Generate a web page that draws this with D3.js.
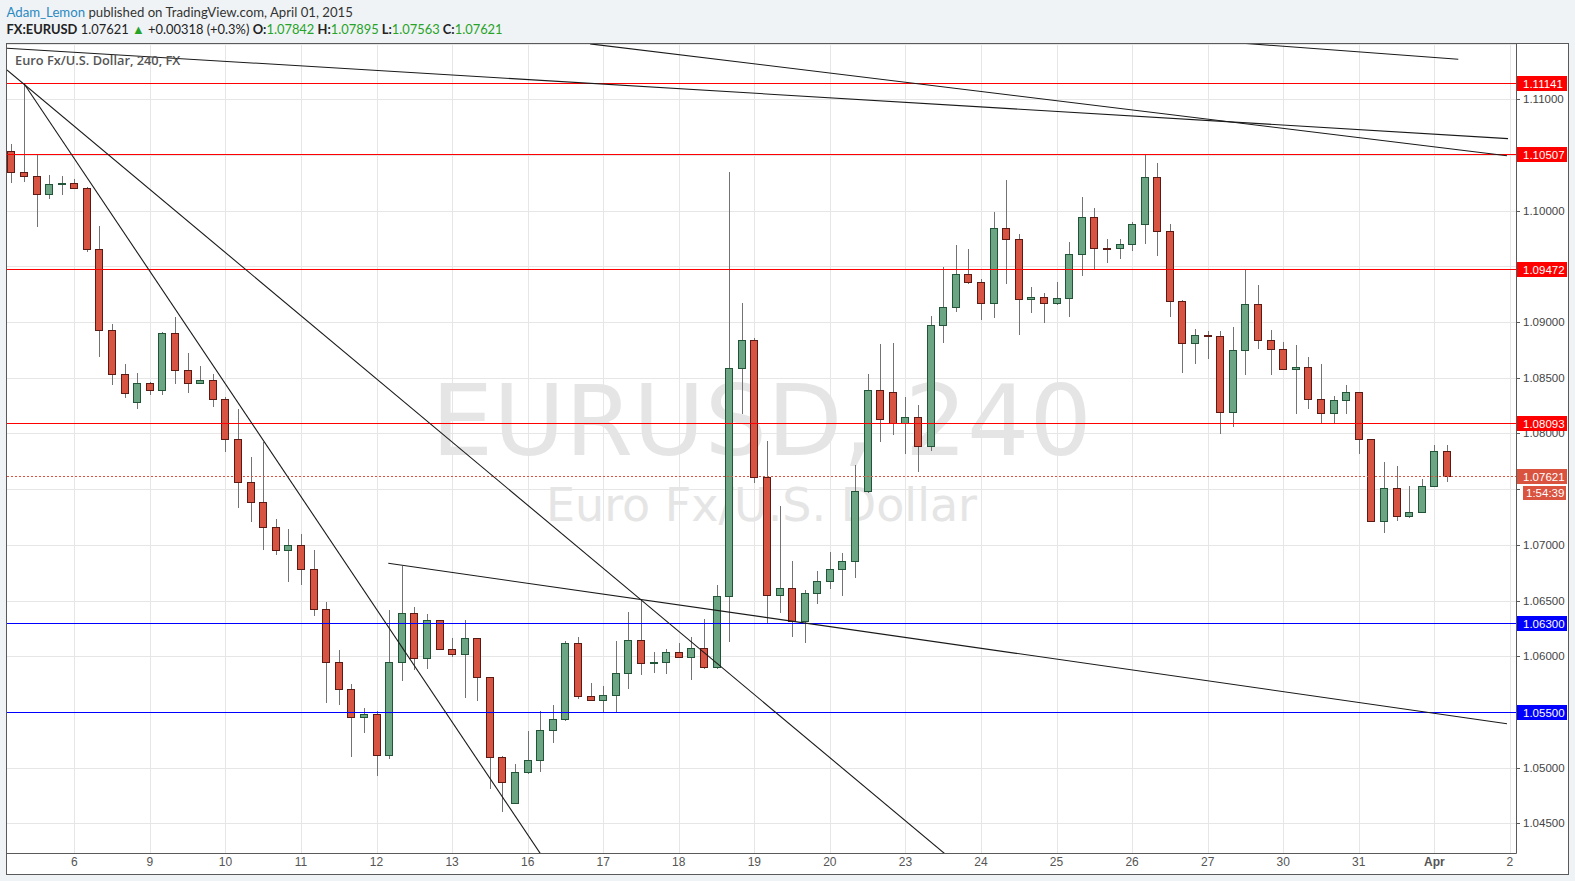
<!DOCTYPE html>
<html><head><meta charset="utf-8">
<script src="https://cdn.jsdelivr.net/npm/d3@7"></script>
<style>
html,body{margin:0;padding:0;background:#f0f3f6;overflow:hidden;}
svg{display:block;}
</style></head><body>
<svg id="c" width="1575" height="881"></svg>
<script>
// ---- data ----
const dayLabels = ["6","9","10","11","12","13","16","17","18","19","20","23","24","25","26","27","30","31","Apr","2"];
const dayStartBar = [5,11,17,23,29,35,41,47,53,59,65,71,77,83,89,95,101,107,113,119];
const priceTicks = [1.045,1.05,1.055,1.06,1.065,1.07,1.075,1.08,1.085,1.09,1.095,1.10,1.105,1.11,1.115];
const priceTickLabels = ["1.04500","1.05000","1.05500","1.06000","1.06500","1.07000","1.07500","1.08000","1.08500","1.09000","1.09500","1.10000","1.10500","1.11000","1.11500"];

const open = [1.10532,1.10344,1.10308,1.10146,1.10236,1.10245,1.10200,1.09653,1.08926,1.08531,
1.08279,1.08450,1.08387,1.08899,1.08566,1.08450,1.08477,1.08306,1.07947,1.07561,
1.07382,1.07157,1.06951,1.06996,1.06780,1.06421,1.05945,1.05703,1.05452,1.05479,
1.05110,1.05945,1.06385,1.05981,1.06322,1.06062,1.06017,1.06161,1.05811,1.05092,
1.04680,1.04958,1.05066,1.05335,1.05434,1.06116,1.05640,1.05604,1.05649,1.05846,
1.06143,1.05936,1.05945,1.06035,1.05990,1.06071,1.05900,1.06538,1.08584,1.08836,
1.07606,1.06549,1.06610,1.06310,1.06565,1.06672,1.06780,1.06852,1.07480,1.08387,
1.08369,1.08091,1.08145,1.07884,1.08970,1.09132,1.09428,1.09356,1.09168,1.09841,
1.09742,1.09204,1.09222,1.09168,1.09213,1.09608,1.09940,1.09662,1.09662,1.09698,
1.09877,1.10299,1.09814,1.09186,1.08809,1.08881,1.08872,1.08189,1.08746,1.09159,
1.08836,1.08755,1.08575,1.08593,1.08306,1.08180,1.08297,1.08369,1.07947,1.07211,
1.07507,1.07256,1.07292,1.07525,1.07842];
const high = [1.10598,1.11141,1.10499,1.10320,1.10311,1.10281,1.10212,1.09859,1.08982,1.08623,
1.08539,1.08459,1.08910,1.09042,1.08722,1.08602,1.08531,1.08327,1.08219,1.07788,
1.07920,1.07232,1.07145,1.07097,1.06951,1.06487,1.06058,1.05750,1.05535,1.05505,
1.06415,1.06812,1.06439,1.06376,1.06322,1.06163,1.06325,1.06161,1.05811,1.05104,
1.05032,1.05329,1.05505,1.05565,1.06139,1.06172,1.05757,1.05732,1.06139,1.06397,
1.06511,1.06035,1.06067,1.06116,1.06172,1.06334,1.06636,1.10347,1.09171,1.08854,
1.07932,1.07348,1.06855,1.06594,1.06765,1.06935,1.06924,1.07716,1.08533,1.08803,
1.08812,1.08327,1.08252,1.09057,1.09494,1.09689,1.09653,1.09383,1.09985,1.10275,
1.09790,1.09317,1.09258,1.09356,1.09718,1.10122,1.10021,1.09742,1.09742,1.09895,
1.10507,1.10427,1.09877,1.09195,1.08935,1.08917,1.08917,1.08952,1.09472,1.09329,
1.08926,1.08818,1.08791,1.08683,1.08620,1.08333,1.08432,1.08369,1.07947,1.07743,
1.07707,1.07525,1.07588,1.07896,1.07895];
const low = [1.10245,1.10254,1.09855,1.10107,1.10137,1.10191,1.09631,1.08689,1.08437,1.08318,
1.08216,1.08347,1.08347,1.08446,1.08365,1.08444,1.08234,1.07836,1.07333,1.07207,
1.06956,1.06911,1.06669,1.06642,1.06364,1.05583,1.05559,1.05098,1.05308,1.04927,
1.05074,1.05780,1.05873,1.05888,1.06062,1.05995,1.05628,1.05601,1.04811,1.04604,
1.04680,1.04945,1.04963,1.05224,1.05416,1.05613,1.05595,1.05496,1.05496,1.05708,
1.05829,1.05852,1.05838,1.05990,1.05784,1.05882,1.05882,1.06127,1.08174,1.07558,
1.06295,1.06391,1.06175,1.06119,1.06466,1.06606,1.06543,1.06705,1.07462,1.07926,
1.07988,1.07815,1.07656,1.07845,1.08814,1.09092,1.09338,1.09021,1.09039,1.09344,
1.08886,1.09083,1.08994,1.09150,1.09048,1.09416,1.09473,1.09527,1.09563,1.09635,
1.09703,1.09595,1.09042,1.08545,1.08626,1.08671,1.07997,1.08055,1.08527,1.08755,
1.08527,1.08575,1.08177,1.08216,1.08082,1.08091,1.08177,1.07818,1.07211,1.07109,
1.07211,1.07238,1.07292,1.07525,1.07563];
const close = [1.10344,1.10308,1.10146,1.10236,1.10245,1.10197,1.09653,1.08926,1.08531,1.08360,
1.08450,1.08387,1.08899,1.08566,1.08450,1.08477,1.08306,1.07947,1.07561,1.07382,
1.07157,1.06951,1.06996,1.06780,1.06421,1.05945,1.05703,1.05452,1.05479,1.05110,
1.05945,1.06385,1.05981,1.06322,1.06062,1.06017,1.06161,1.05811,1.05092,1.04868,
1.04958,1.05066,1.05335,1.05434,1.06116,1.05640,1.05604,1.05649,1.05846,1.06143,
1.05936,1.05945,1.06035,1.05990,1.06071,1.05900,1.06538,1.08584,1.08836,1.07606,
1.06549,1.06610,1.06310,1.06565,1.06672,1.06780,1.06852,1.07480,1.08387,1.08127,
1.08091,1.08145,1.07884,1.08970,1.09132,1.09428,1.09356,1.09168,1.09841,1.09742,
1.09204,1.09222,1.09168,1.09213,1.09608,1.09940,1.09662,1.09657,1.09698,1.09877,
1.10299,1.09814,1.09186,1.08809,1.08881,1.08872,1.08189,1.08746,1.09159,1.08836,
1.08755,1.08575,1.08593,1.08306,1.08180,1.08297,1.08369,1.07947,1.07211,1.07507,
1.07256,1.07292,1.07525,1.07842,1.07621];

const redLevels = [1.11141, 1.10507, 1.09472, 1.08093];
const redLevelLabels = ["1.11141","1.10507","1.09472","1.08093"];
const blueLevels = [1.06300, 1.05500];
const blueLevelLabels = ["1.06300","1.05500"];
const lastPrice = 1.07621;
const lastPriceLabel = "1.07621";
const timerLabel = "1:54:39";

// trend lines as [barIndex1, price1, barIndex2, price2]
const trendLines = [
  [1, 1.11141, 42, 1.04230],
  [-0.35, 1.11262, 74.2, 1.04220],
  [-0.35, 1.11458, 118.85, 1.10646],
  [45.96, 1.11497, 118.77, 1.10493],
  [98.04, 1.11500, 114.9, 1.11358],
  [29.93, 1.06834, 118.77, 1.05394]
];

// ---- layout ----
const svg = d3.select("#c");
const P = {left:7, right:1516, top:43.5, bottom:853};
const x = d3.scaleLinear().domain([0,119]).range([11.34,1509.9]);
const y = d3.scaleLinear().domain([1.045,1.11]).range([823.3,99.2]);

svg.append("rect").attr("width",1575).attr("height",881).attr("fill","#f0f3f6");
svg.append("rect").attr("x",6.5).attr("y",43.5).attr("width",1562).attr("height",831)
  .attr("fill","#fff").attr("stroke","#5a5a5a");

// header
const hdr = svg.append("text").attr("x",6.5).attr("y",16.5)
  .attr("font-family","Lato, sans-serif").attr("font-size",13.2).attr("fill","#333");
hdr.append("tspan").attr("fill","#2a8ac2").text("Adam_Lemon");
hdr.append("tspan").text(" published on TradingView.com, April 01, 2015");

const h2 = svg.append("text").attr("x",6.5).attr("y",33.5)
  .attr("font-family","Lato, sans-serif").attr("font-size",12.9).attr("fill","#222");
h2.append("tspan").attr("font-weight","bold").text("FX:EURUSD");
h2.append("tspan").text(" 1.07621 ");
h2.append("tspan").attr("fill","#27a327").text("▲");
h2.append("tspan").text(" +0.00318 (+0.3%) ");
[["O:","1.07842"],["H:","1.07895"],["L:","1.07563"],["C:","1.07621"]].forEach((p,i)=>{
  h2.append("tspan").attr("font-weight","bold").text((i?" ":"")+p[0]);
  h2.append("tspan").attr("fill","#27a327").text(p[1]);
});

// clip
svg.append("clipPath").attr("id","pc").append("rect")
  .attr("x",P.left).attr("y",44).attr("width",P.right-P.left).attr("height",P.bottom-44);
const g = svg.append("g").attr("clip-path","url(#pc)");

// grid
g.selectAll(".hg").data(priceTicks).join("line")
  .attr("x1",P.left).attr("x2",P.right)
  .attr("y1",d=>Math.round(y(d))+0.5).attr("y2",d=>Math.round(y(d))+0.5)
  .attr("stroke","#e6e6e6");
g.selectAll(".vg").data(dayStartBar).join("line")
  .attr("x1",d=>Math.round(x(d))+0.5).attr("x2",d=>Math.round(x(d))+0.5)
  .attr("y1",P.top).attr("y2",P.bottom).attr("stroke","#e6e6e6");

// watermark
const cx = (P.left+P.right)/2;
g.append("text").attr("x",cx).attr("y",455).attr("text-anchor","middle")
  .attr("font-family","'DejaVu Sans', sans-serif").attr("font-size",98).attr("fill","#e5e5e5")
  .text("EURUSD, 240");
g.append("text").attr("x",cx).attr("y",521).attr("text-anchor","middle")
  .attr("font-family","'DejaVu Sans', sans-serif").attr("font-size",46).attr("fill","#e5e5e5")
  .text("Euro Fx/U.S. Dollar");

// legend
svg.append("text").attr("x",15).attr("y",65).attr("font-family","'Open Sans', sans-serif")
  .attr("font-size",12.8).attr("font-weight",600).attr("fill","#555")
  .text("Euro Fx/U.S. Dollar, 240, FX");

// candles
const idx = d3.range(open.length);
const cg = g.append("g").attr("shape-rendering","crispEdges");
cg.selectAll(".wick").data(idx).join("line")
  .attr("x1",i=>Math.round(x(i))+0.5).attr("x2",i=>Math.round(x(i))+0.5)
  .attr("y1",i=>y(high[i])).attr("y2",i=>y(low[i]))
  .attr("stroke","#737373");
cg.selectAll(".body").data(idx).join("rect")
  .attr("x",i=>Math.round(x(i))-3.5).attr("width",7)
  .attr("y",i=>Math.round(y(Math.max(open[i],close[i])))+0.5)
  .attr("height",i=>Math.max(1,Math.round(Math.abs(y(open[i])-y(close[i])))))
  .attr("fill",i=>close[i]>=open[i]?"#6ba583":"#d75442")
  .attr("stroke",i=>close[i]>=open[i]?"#225437":"#5b1a13");

// level lines
g.selectAll(".rl").data(redLevels).join("line")
  .attr("x1",P.left).attr("x2",P.right)
  .attr("y1",d=>Math.round(y(d))+0.5).attr("y2",d=>Math.round(y(d))+0.5)
  .attr("stroke","#ff0000");
g.selectAll(".bl").data(blueLevels).join("line")
  .attr("x1",P.left).attr("x2",P.right)
  .attr("y1",d=>Math.round(y(d))+0.5).attr("y2",d=>Math.round(y(d))+0.5)
  .attr("stroke","#0000ff");
g.append("line").attr("x1",P.left).attr("x2",P.right)
  .attr("y1",Math.round(y(lastPrice))+0.5).attr("y2",Math.round(y(lastPrice))+0.5)
  .attr("stroke","#e0503a").attr("stroke-dasharray","2,2");

// trend lines
g.selectAll(".tl").data(trendLines).join("line")
  .attr("x1",d=>x(d[0])).attr("y1",d=>y(d[1]))
  .attr("x2",d=>x(d[2])).attr("y2",d=>y(d[3]))
  .attr("stroke","#1a1a1a").attr("stroke-width",1.1);

// axes lines
svg.append("line").attr("x1",P.right+0.5).attr("x2",P.right+0.5).attr("y1",43.5).attr("y2",P.bottom+0.5)
  .attr("stroke","#5a5a5a");
svg.append("line").attr("x1",P.left).attr("x2",P.right+0.5).attr("y1",P.bottom+0.5).attr("y2",P.bottom+0.5)
  .attr("stroke","#5a5a5a");

// price axis ticks (labels hidden where a price box covers them, as in the original)
const boxLevels = redLevels.concat(blueLevels, [lastPrice, lastPrice-0.0012]);
const ax = svg.append("g");
const visTicks = priceTicks.filter(d=>d<1.113);
ax.selectAll(".tk").data(visTicks).join("line")
  .attr("x1",P.right+1).attr("x2",P.right+4)
  .attr("y1",d=>Math.round(y(d))+0.5).attr("y2",d=>Math.round(y(d))+0.5)
  .attr("stroke","#5a5a5a");
const labTicks = visTicks.filter(d=>boxLevels.every(b=>Math.abs(y(d)-y(b))>9));
ax.selectAll(".tl").data(labTicks).join("text")
  .attr("x",P.right+7).attr("y",d=>y(d)+4)
  .attr("font-family","'Liberation Sans', Arial, sans-serif").attr("font-size",11.5).attr("fill","#444")
  .text(d=>priceTickLabels[priceTicks.indexOf(d)]);

// time axis labels
svg.selectAll(".dl").data(dayStartBar).join("text")
  .attr("x",d=>x(d)).attr("y",866).attr("text-anchor","middle")
  .attr("font-family","'Liberation Sans', Arial, sans-serif").attr("font-size",12)
  .attr("font-weight",(d,i)=>dayLabels[i]==="Apr"?"bold":"normal")
  .attr("fill","#555").text((d,i)=>dayLabels[i]);

// price labels
function priceBox(v, label, color){
  const yy = Math.round(y(v));
  svg.append("rect").attr("x",P.right+1).attr("y",yy-7).attr("width",50).attr("height",15).attr("fill",color);
  svg.append("text").attr("x",P.right+7).attr("y",yy+4.5)
    .attr("font-family","'Liberation Sans', Arial, sans-serif").attr("font-size",11.5).attr("fill","#fff").text(label);
}
redLevels.forEach((v,i)=>priceBox(v, redLevelLabels[i], "#ff0000"));
blueLevels.forEach((v,i)=>priceBox(v, blueLevelLabels[i], "#0000ff"));
priceBox(lastPrice, lastPriceLabel, "#d9533f");
const ty = Math.round(y(lastPrice))+10;
svg.append("rect").attr("x",P.right+7).attr("y",ty).attr("width",43).attr("height",14).attr("fill","#d9533f");
svg.append("text").attr("x",P.right+10).attr("y",ty+11)
  .attr("font-family","'Liberation Sans', Arial, sans-serif").attr("font-size",11.5).attr("fill","#fff").text(timerLabel);
</script>
</body></html>
